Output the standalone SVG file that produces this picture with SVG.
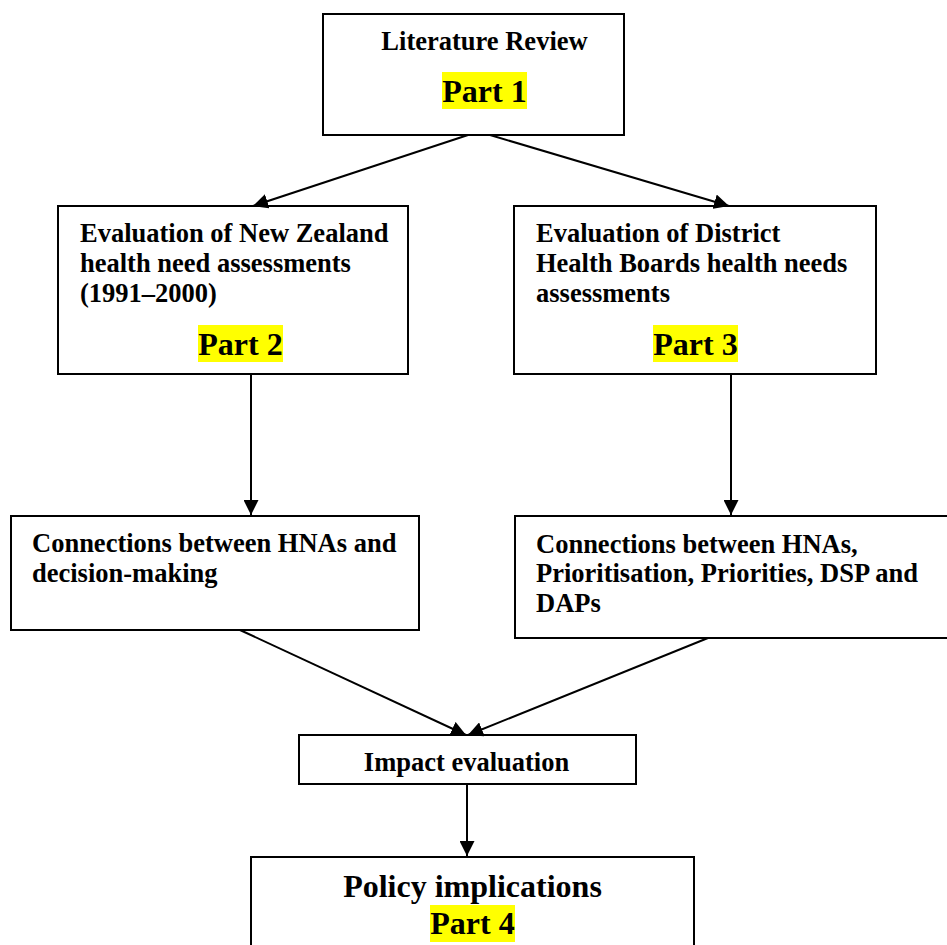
<svg xmlns="http://www.w3.org/2000/svg" width="947" height="945" viewBox="0 0 947 945">
  <style>
    .box { fill: #ffffff; stroke: #000000; stroke-width: 2; }
    .txt { font-family: "Liberation Serif", "Times New Roman", serif; font-weight: bold; font-size: 26.5px; fill: #000000; }
    .part { font-family: "Liberation Serif", "Times New Roman", serif; font-weight: bold; font-size: 32px; fill: #000000; text-anchor: middle; }
    .hl { fill: #ffff00; }
    .mid { text-anchor: middle; }
    .conn { stroke: #000000; stroke-width: 2; fill: none; marker-end: url(#arrow); }
  </style>
  <defs>
    <marker id="arrow" markerUnits="userSpaceOnUse" markerWidth="15" markerHeight="15" refX="15" refY="7.5" orient="auto">
      <path d="M0,0 L15,7.5 L0,15 z" fill="#000000"/>
    </marker>
  </defs>
  <rect width="947" height="945" fill="#ffffff"/>

  <g id="literature-review">
    <rect class="box" x="323" y="14" width="301" height="121"/>
    <text class="txt mid" x="484.5" y="50">Literature Review</text>
    <rect class="hl" x="442" y="72" width="85" height="37"/>
    <text class="part" x="484.5" y="102">Part 1</text>
  </g>

  <g id="nz-hna-evaluation">
    <rect class="box" x="58" y="206" width="350" height="168"/>
    <text class="txt" x="80" y="242">Evaluation of New Zealand</text>
    <text class="txt" x="80" y="272">health need assessments</text>
    <text class="txt" x="80" y="302">(1991–2000)</text>
    <rect class="hl" x="198" y="325" width="85" height="37"/>
    <text class="part" x="240.5" y="355">Part 2</text>
  </g>

  <g id="dhb-hna-evaluation">
    <rect class="box" x="514" y="206" width="362" height="168"/>
    <text class="txt" x="536" y="242">Evaluation of District</text>
    <text class="txt" x="536" y="272">Health Boards health needs</text>
    <text class="txt" x="536" y="302">assessments</text>
    <rect class="hl" x="653" y="325" width="85" height="37"/>
    <text class="part" x="695.5" y="355">Part 3</text>
  </g>

  <g id="hna-decision-making">
    <rect class="box" x="11" y="516" width="408" height="114"/>
    <text class="txt" x="32" y="552">Connections between HNAs and</text>
    <text class="txt" x="32" y="582">decision-making</text>
  </g>

  <g id="hna-prioritisation">
    <rect class="box" x="515" y="516" width="440" height="122"/>
    <text class="txt" x="536" y="553">Connections between HNAs,</text>
    <text class="txt" x="536" y="582">Prioritisation, Priorities, DSP and</text>
    <text class="txt" x="536" y="612">DAPs</text>
  </g>

  <g id="impact-evaluation">
    <rect class="box" x="299" y="735" width="337" height="49"/>
    <text class="txt mid" x="466.5" y="771">Impact evaluation</text>
  </g>

  <g id="policy-implications">
    <rect class="box" x="251" y="857" width="443" height="100"/>
    <text class="part" x="472.5" y="897">Policy implications</text>
    <rect class="hl" x="430" y="905" width="85" height="37"/>
    <text class="part" x="472.5" y="934">Part 4</text>
  </g>

  <g id="connectors">
    <line class="conn" x1="468" y1="135" x2="253" y2="206"/>
    <line class="conn" x1="490" y1="135" x2="729" y2="206"/>
    <line class="conn" x1="251" y1="374" x2="251" y2="515"/>
    <line class="conn" x1="731" y1="374" x2="731" y2="515"/>
    <line class="conn" x1="240" y1="630" x2="466" y2="735"/>
    <line class="conn" x1="708" y1="638" x2="468" y2="735"/>
    <line class="conn" x1="467" y1="784" x2="467" y2="856"/>
  </g>
</svg>
